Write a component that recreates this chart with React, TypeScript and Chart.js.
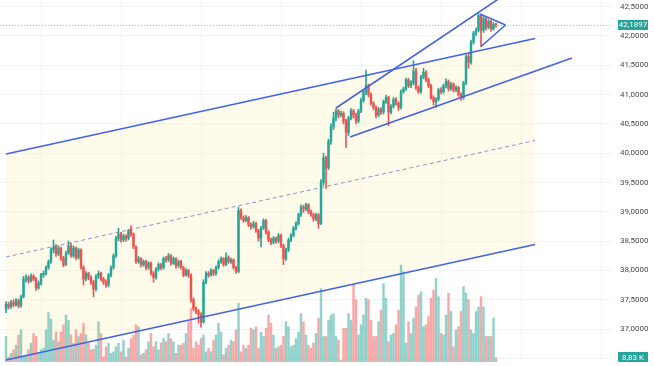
import React, { useEffect, useRef } from 'react';
import { Chart, registerables } from 'chart.js';
Chart.register(...registerables);

// ---- data (candle index 0..196) ----
const opens = [
  37.33,37.42,37.38,37.45,37.41,37.48,37.40,37.55,37.85,37.88,37.82,37.90,37.85,37.70,37.78,37.92,37.95,38.05,38.15,38.35,
  38.40,38.28,38.38,38.20,38.10,38.30,38.42,38.25,38.38,38.22,38.35,38.05,37.85,37.95,37.88,37.80,37.68,37.90,37.95,37.85,
  37.80,37.75,37.92,38.05,38.25,38.55,38.62,38.52,38.58,38.55,38.68,38.62,38.40,38.15,38.20,38.10,38.15,38.05,38.12,37.95,
  37.88,38.02,38.10,38.05,38.20,38.18,38.25,38.12,38.20,38.08,38.15,38.05,37.92,38.00,37.92,37.50,37.35,37.30,37.25,37.12,
  37.80,37.95,37.92,38.00,37.95,38.05,38.15,38.20,38.10,38.22,38.15,38.18,38.05,37.98,39.02,38.90,38.85,38.90,38.78,38.75,
  38.80,38.68,38.55,38.72,38.85,38.65,38.52,38.48,38.55,38.50,38.60,38.42,38.20,38.35,38.52,38.60,38.72,38.80,38.95,39.08,
  39.05,39.12,39.00,38.95,38.88,38.95,38.80,39.50,39.92,39.75,40.20,40.45,40.60,40.72,40.65,40.68,40.55,40.35,40.60,40.72,
  40.65,40.55,40.72,40.90,41.05,41.15,41.00,40.85,40.78,40.65,40.75,40.70,40.88,40.95,40.70,40.80,40.92,40.85,40.78,41.05,
  41.10,41.25,41.15,41.20,41.40,41.12,41.05,41.30,41.38,41.25,41.15,40.95,40.88,40.92,41.08,41.05,41.15,41.22,41.10,41.18,
  41.08,41.12,41.00,40.95,41.20,41.65,41.55,41.90,42.05,42.10,42.35,42.10,42.30,42.15,42.25,42.12,42.20
];
const highs = [
  37.47,37.46,37.49,37.50,37.52,37.51,37.58,37.90,37.93,37.91,37.94,37.93,37.88,37.82,37.95,37.99,38.08,38.18,38.38,38.52,
  38.44,38.42,38.40,38.24,38.33,38.50,38.46,38.42,38.40,38.38,38.37,38.08,37.98,37.97,37.91,37.83,37.93,37.99,37.97,37.88,
  37.84,37.95,38.08,38.28,38.58,38.72,38.65,38.62,38.61,38.70,38.76,38.64,38.42,38.24,38.22,38.18,38.17,38.15,38.14,37.98,
  38.05,38.13,38.12,38.23,38.24,38.29,38.27,38.23,38.22,38.18,38.17,38.07,38.03,38.02,37.94,37.53,37.38,37.33,37.28,37.84,
  37.98,37.98,38.03,38.02,38.08,38.18,38.23,38.22,38.30,38.25,38.21,38.20,38.07,39.08,39.05,38.93,38.94,38.92,38.81,38.84,
  38.82,38.70,38.75,38.88,38.87,38.68,38.55,38.58,38.57,38.63,38.62,38.45,38.38,38.55,38.63,38.75,38.83,38.98,39.12,39.11,
  39.15,39.14,39.03,38.98,38.98,38.97,39.55,40.00,39.95,40.24,40.50,40.70,40.76,40.75,40.72,40.71,40.58,40.63,40.76,40.75,
  40.68,40.75,40.94,41.08,41.42,41.18,41.03,40.88,40.81,40.78,40.78,40.91,40.99,40.97,40.83,40.95,40.95,40.88,41.08,41.13,
  41.28,41.28,41.24,41.58,41.45,41.15,41.33,41.45,41.41,41.28,41.18,40.98,40.95,41.11,41.12,41.18,41.27,41.25,41.21,41.20,
  41.15,41.14,41.03,41.23,41.68,41.70,41.93,42.08,42.14,42.38,42.37,42.33,42.32,42.28,42.27,42.23,42.22
];
const lows = [
  37.28,37.34,37.35,37.38,37.39,37.36,37.37,37.53,37.80,37.78,37.80,37.82,37.66,37.68,37.75,37.88,37.92,38.02,38.12,38.30,
  38.24,38.25,38.17,38.06,38.08,38.27,38.22,38.22,38.18,38.19,38.02,37.75,37.82,37.84,37.76,37.55,37.65,37.86,37.82,37.76,
  37.71,37.72,37.89,38.02,38.22,38.50,38.48,38.49,38.50,38.52,38.58,38.37,38.12,38.12,38.06,38.07,38.01,38.02,37.92,37.80,
  37.85,37.99,38.01,38.02,38.14,38.15,38.09,38.10,38.04,38.05,38.02,37.89,37.90,37.88,37.46,37.31,37.26,37.10,37.03,37.10,
  37.77,37.88,37.90,37.91,37.92,38.02,38.12,38.07,38.08,38.12,38.12,38.02,37.95,37.96,38.87,38.82,38.83,38.75,38.70,38.72,
  38.65,38.50,38.40,38.70,38.62,38.49,38.44,38.45,38.46,38.47,38.39,38.10,38.17,38.32,38.49,38.57,38.69,38.77,38.92,38.99,
  39.02,38.97,38.92,38.84,38.85,38.72,38.78,39.45,39.40,39.72,40.15,40.40,40.55,40.60,40.62,40.50,40.10,40.30,40.57,40.60,
  40.50,40.52,40.69,40.87,41.00,40.96,40.82,40.74,40.60,40.62,40.66,40.67,40.85,40.47,40.67,40.77,40.82,40.73,40.75,41.02,
  41.07,41.12,41.12,41.17,41.08,41.02,41.02,41.27,41.22,41.12,40.92,40.82,40.78,40.89,41.01,41.02,41.12,41.06,41.07,41.04,
  41.05,40.97,40.90,40.92,41.17,41.45,41.52,41.86,42.00,42.07,41.82,42.06,42.10,42.12,42.08,42.10,42.15
];
const closes = [
  37.42,37.38,37.45,37.41,37.48,37.40,37.55,37.85,37.88,37.82,37.90,37.85,37.70,37.78,37.92,37.95,38.05,38.15,38.35,38.40,
  38.28,38.38,38.20,38.10,38.30,38.42,38.25,38.38,38.22,38.35,38.05,37.85,37.95,37.88,37.80,37.68,37.90,37.95,37.85,37.80,
  37.75,37.92,38.05,38.25,38.55,38.62,38.52,38.58,38.55,38.68,38.62,38.40,38.15,38.20,38.10,38.15,38.05,38.12,37.95,37.88,
  38.02,38.10,38.05,38.20,38.18,38.25,38.12,38.20,38.08,38.15,38.05,37.92,38.00,37.92,37.50,37.35,37.30,37.25,37.12,37.80,
  37.95,37.92,38.00,37.95,38.05,38.15,38.20,38.10,38.22,38.15,38.18,38.05,37.98,39.02,38.90,38.85,38.90,38.78,38.75,38.80,
  38.68,38.55,38.72,38.85,38.65,38.52,38.48,38.55,38.50,38.60,38.42,38.20,38.35,38.52,38.60,38.72,38.80,38.95,39.08,39.05,
  39.12,39.00,38.95,38.88,38.95,38.80,39.50,39.92,39.75,40.20,40.45,40.60,40.72,40.65,40.68,40.55,40.35,40.60,40.72,40.65,
  40.55,40.72,40.90,41.05,41.15,41.00,40.85,40.78,40.65,40.75,40.70,40.88,40.95,40.70,40.80,40.92,40.85,40.78,41.05,41.10,
  41.25,41.15,41.20,41.40,41.12,41.05,41.30,41.38,41.25,41.15,40.95,40.88,40.92,41.08,41.05,41.15,41.22,41.10,41.18,41.08,
  41.12,41.00,40.95,41.20,41.65,41.55,41.90,42.05,42.10,42.35,42.10,42.30,42.15,42.25,42.12,42.20,42.1897
];
// volume in thousands
const volumes = [
  50,10,17,24,33,53,63,10,14,24,37,56,50,17,24,27,63,97,84,43,
  59,40,59,73,92,82,53,37,63,50,56,76,53,37,24,25,33,79,56,10,
  30,37,17,20,30,37,20,43,10,27,46,53,73,69,14,17,24,40,56,30,
  40,24,37,46,40,56,46,40,17,33,33,37,56,79,105,27,40,33,46,53,
  20,27,20,43,53,76,59,14,27,33,43,40,63,115,20,33,27,33,66,63,
  69,27,59,50,66,92,76,53,27,30,33,50,79,69,30,33,46,59,95,79,
  53,33,27,37,56,86,144,50,50,82,92,95,50,43,4,66,66,95,82,151,
  122,53,73,92,125,122,82,50,50,79,102,154,125,40,53,56,73,102,190,177,
  37,79,56,86,108,131,138,69,73,89,125,141,164,128,56,53,92,135,99,30,
  63,69,99,148,135,122,63,56,99,108,128,108,50,50,50,86,8.83
];
const priceTicks = [36.5, 37, 37.5, 38, 38.5, 39, 39.5, 40, 40.5, 41, 41.5, 42, 42.5];
const gridIndexes = [14, 46, 78, 110, 142, 174, 206, 238];
const lastPrice = 42.1897;
const lastVolumeText = '8,83 K';

// drawings: [candle index, price]
const channelUpper = [[0, 39.986], [211.6, 41.957]];
const channelMiddle = [[0, 38.229], [211.6, 40.217]];
const channelLower = [[0, 36.471], [211.6, 38.442]];
const wedgeUpper = [[132, 40.771], [202, 42.775]];
const wedgeLower = [[137.6, 40.276], [226.4, 41.625]];
const pennantUpper = [[189.6, 42.375], [199.8, 42.188]];
const pennantLower = [[190, 41.821], [199.8, 42.188]];

const GREEN = '#26a69a';
const RED = '#ef5350';
const BLUE = '#4263e6';
const GRID = 'rgba(42,46,57,0.05)';
const FONT = 'Roboto, "Liberation Sans", sans-serif';

const fmt = (v: number) => v.toFixed(4).replace('.', ',');
const pts = (arr: number[][]) => arr.map(([x, y]) => ({ x, y }));

const overlay = {
  id: 'tvOverlay',
  afterDatasetsDraw(chart: any) {
    const { ctx, chartArea } = chart;
    const y = chart.scales.y.getPixelForValue(lastPrice);
    ctx.save();
    ctx.strokeStyle = 'rgba(38,166,154,0.5)';
    ctx.lineWidth = 1;
    ctx.setLineDash([1, 2]);
    ctx.beginPath();
    ctx.moveTo(chartArea.left, Math.round(y) + 0.5);
    ctx.lineTo(chartArea.right, Math.round(y) + 0.5);
    ctx.stroke();
    ctx.restore();
  },
  afterDraw(chart: any) {
    const { ctx, chartArea } = chart;
    const yp = chart.scales.y.getPixelForValue(lastPrice);
    const yv = Math.min(chart.scales.yv.getPixelForValue(volumes[volumes.length - 1]), chart.height - 7);
    const left = chartArea.right + 6;
    const w = 30;
    const h = 10;
    ctx.save();
    ctx.font = `8px ${FONT}`;
    ctx.textAlign = 'center';
    ctx.textBaseline = 'middle';
    [[yp, fmt(lastPrice)], [yv, lastVolumeText]].forEach(([cy, txt]: any) => {
      ctx.fillStyle = GREEN;
      ctx.fillRect(left, Math.round(cy - h / 2), w, h);
      ctx.fillStyle = '#ffffff';
      ctx.fillText(txt, left + w / 2, cy + 0.5);
    });
    ctx.restore();
  },
};

export default function App() {
  const ref = useRef<HTMLCanvasElement>(null);
  useEffect(() => {
    if (!ref.current) return;
    const up = closes.map((c, i) => c >= opens[i]);
    const candleColors = up.map((u) => (u ? GREEN : RED));
    const volColors = up.map((u) => (u ? 'rgba(38,166,154,0.5)' : 'rgba(239,83,80,0.5)'));
    const lineBase = { type: 'line', pointRadius: 0, borderWidth: 1.6, borderColor: BLUE, fill: false, order: 0, yAxisID: 'y' };
    const chart = new Chart(ref.current, {
      type: 'bar',
      data: {
        datasets: [
          { ...lineBase, data: pts(channelUpper) },
          { ...lineBase, data: pts(channelLower), fill: { target: 0 }, backgroundColor: 'rgba(255,236,160,0.22)' },
          { ...lineBase, data: pts(channelMiddle), borderWidth: 1, borderColor: 'rgba(110,120,200,0.8)', borderDash: [4, 3] },
          { ...lineBase, data: pts(wedgeUpper) },
          { ...lineBase, data: pts(wedgeLower) },
          { ...lineBase, data: pts(pennantUpper) },
          { ...lineBase, data: pts(pennantLower) },
          {
            type: 'bar', yAxisID: 'y', order: 1, grouped: false, barThickness: 1,
            data: lows.map((l, i) => ({ x: i, y: [l, highs[i]] })),
            backgroundColor: candleColors,
          },
          {
            type: 'bar', yAxisID: 'y', order: 1, grouped: false, barThickness: 1.8, minBarLength: 1,
            data: opens.map((o, i) => ({ x: i, y: [o, closes[i]] })),
            backgroundColor: candleColors,
          },
          {
            type: 'bar', yAxisID: 'yv', order: 2, grouped: false, barThickness: 1.8,
            data: volumes.map((v, i) => ({ x: i, y: v })),
            backgroundColor: volColors,
          },
        ] as any,
      },
      options: {
        animation: false,
        responsive: false,
        maintainAspectRatio: false,
        layout: { padding: 0 },
        plugins: {
          legend: { display: false },
          tooltip: { enabled: false },
          filler: { drawTime: 'beforeDatasetsDraw' },
        },
        scales: {
          x: {
            type: 'linear', min: -2.4, max: 242.4, offset: false,
            ticks: { display: false },
            grid: { color: GRID, drawTicks: false, offset: false },
            border: { display: false },
            afterBuildTicks: (s: any) => { s.ticks = gridIndexes.map((v) => ({ value: v })); },
            afterFit: (s: any) => { s.height = 4; s.paddingLeft = 0; s.paddingRight = 0; },
          },
          y: {
            type: 'linear', position: 'right', min: 36.4369, max: 42.6143,
            afterBuildTicks: (s: any) => { s.ticks = priceTicks.map((v) => ({ value: v })); },
            ticks: {
              autoSkip: false, padding: 8, color: '#4a4a4a',
              font: { size: 8, family: FONT },
              callback: (v: any) => fmt(Number(v)),
            },
            grid: { color: GRID, drawTicks: false },
            border: { display: false },
            afterFit: (s: any) => { s.width = 42; s.paddingTop = 0; s.paddingBottom = 0; },
          },
          yv: { type: 'linear', display: false, min: 0, max: 710 },
        },
      } as any,
      plugins: [overlay],
    });
    return () => chart.destroy();
  }, []);
  return (
    <div style={{ position: 'absolute', left: 0, top: 0, width: 654, height: 366, background: '#fff' }}>
      <canvas ref={ref} width={654} height={366} />
    </div>
  );
}
